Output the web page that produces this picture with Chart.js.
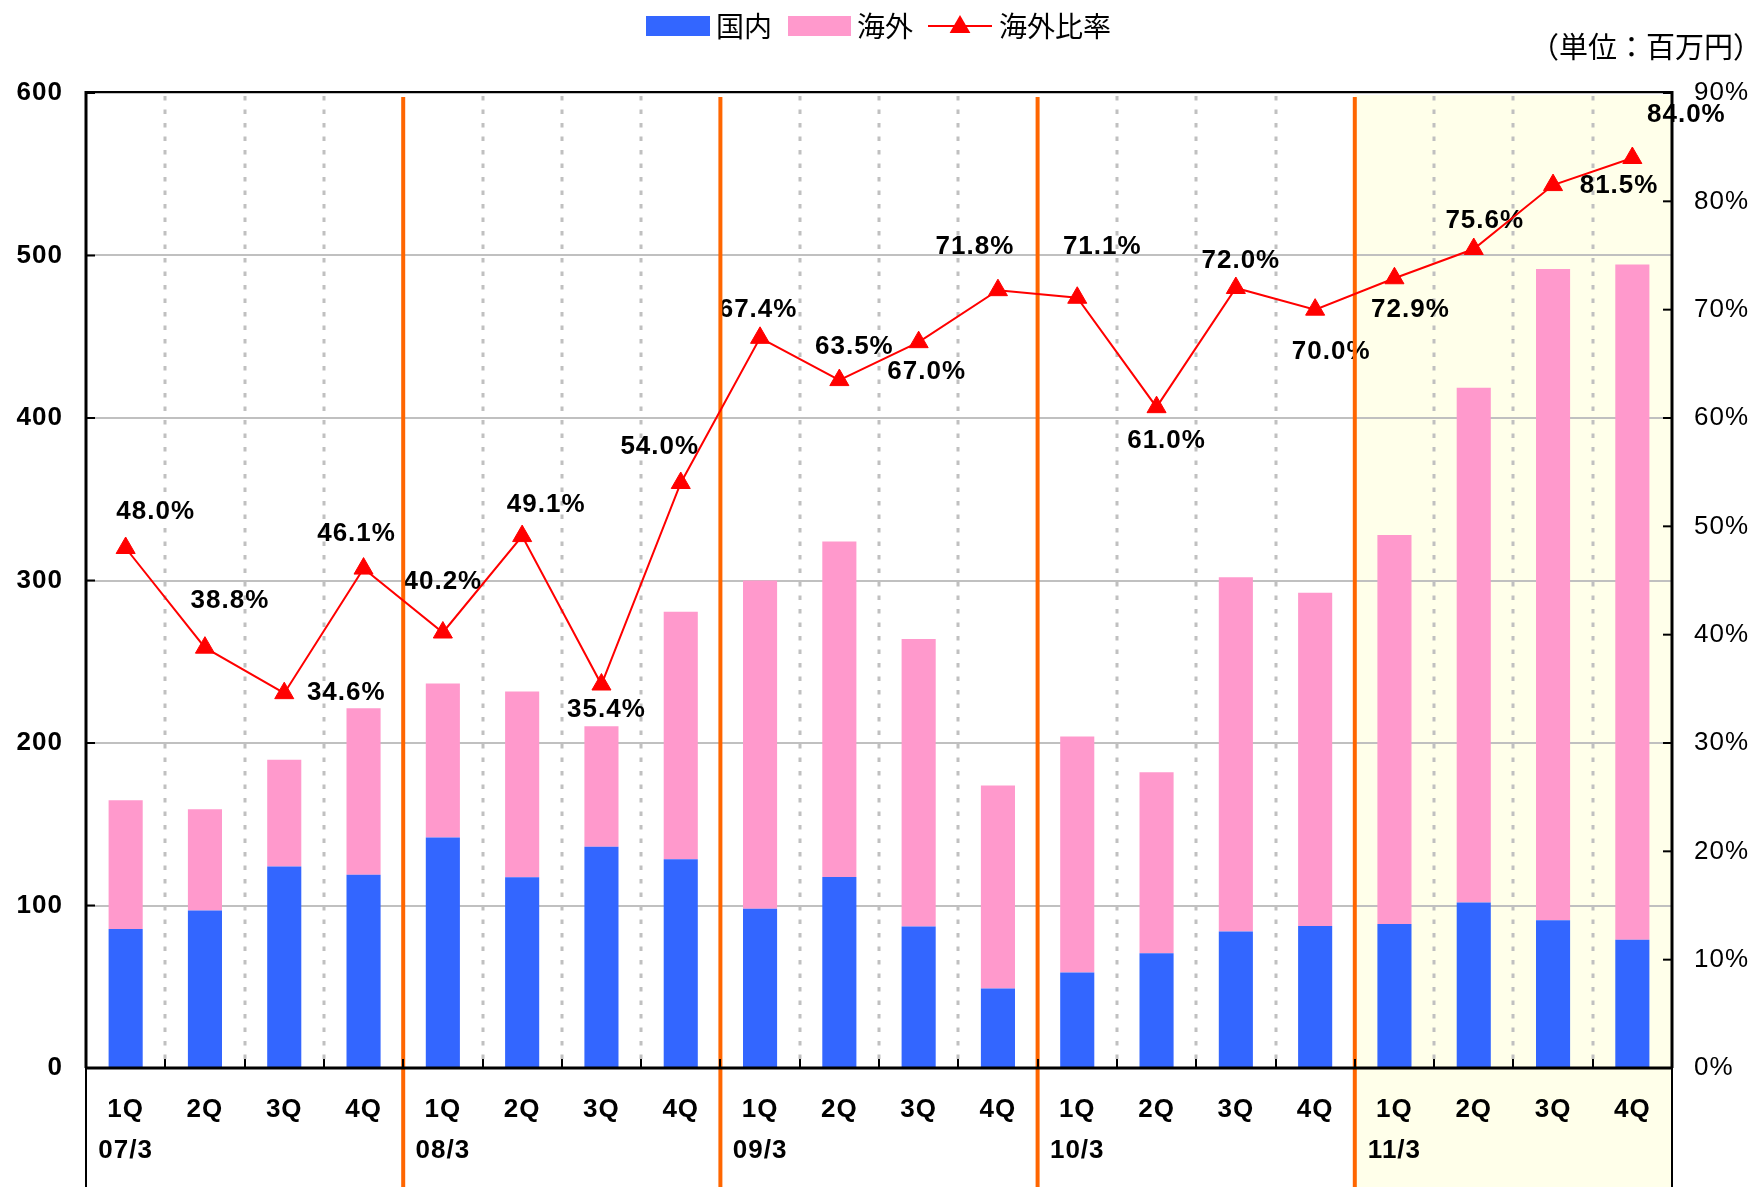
<!DOCTYPE html>
<html>
<head>
<meta charset="utf-8">
<script src="https://cdn.jsdelivr.net/npm/chart.js@4.4.1/dist/chart.umd.min.js"></script>
<style>
html,body{margin:0;padding:0;background:#fff;}
canvas{display:block;}
</style>
</head>
<body>
<canvas id="c" width="1758" height="1187"></canvas>
<script>
// ---- data ----
const quarterNames = ['1Q', '2Q', '3Q', '4Q'];
const fiscalYears = ['07/3', '08/3', '09/3', '10/3', '11/3'];
const domestic = [85.6, 96.9, 124.0, 118.9, 141.8, 117.4, 136.2, 128.5, 98.0, 117.6, 87.1, 49.0,
                  58.8, 70.6, 84.0, 87.4, 88.6, 101.8, 91.0, 79.0];
const overseas = [79.2, 62.4, 65.7, 102.5, 94.8, 114.3, 74.1, 152.2, 202.0, 206.4, 176.9, 124.8,
                  145.2, 111.4, 218.0, 205.0, 239.4, 316.8, 400.7, 415.5];
const overseasRatio = [48.0, 38.8, 34.6, 46.1, 40.2, 49.1, 35.4, 54.0, 67.4, 63.5, 67.0, 71.8,
                       71.1, 61.0, 72.0, 70.0, 72.9, 75.6, 81.5, 84.0];
const leftTicks = [0, 100, 200, 300, 400, 500, 600];
const rightTicks = [0, 10, 20, 30, 40, 50, 60, 70, 80, 90];
const legendNames = ['国内', '海外', '海外比率'];
const unitLabel = '（単位：百万円）';

// label placement relative to each ratio point (pixels) - layout only
const ratioLabelOffsets = [[30,-36],[25,-47],[62,0],[-7,-35],[0,-51],[24,-31],[5,25],[-21,-36],
  [-2,-28],[15,-33],[8,30],[-23,-43],[25,-51],[10,34],[5,-27],[16,42],[16,32],[11,-28],[66,1],[54,-43]];

const categories = [];
fiscalYears.forEach(fy => quarterNames.forEach((q, qi) => categories.push(qi === 0 ? [q, fy] : q)));

const FONT = "'Liberation Sans', Arial, sans-serif";
const CJK = "'Noto Sans CJK JP', 'Noto Sans CJK SC', sans-serif";
const BLUE = '#3366FF', PINK = '#FF99CC', RED = '#FF0000', ORANGE = '#FF6600';

function boundary(x, i) { return x.getPixelForValue(i - 0.5); }

function triangle(ctx, cx, cy, r) {
  ctx.beginPath();
  ctx.moveTo(cx, cy - r);
  ctx.lineTo(cx + r * 0.866, cy + r / 2);
  ctx.lineTo(cx - r * 0.866, cy + r / 2);
  ctx.closePath();
  ctx.fill();
}

const decor = {
  id: 'decor',
  beforeDraw(chart) {
    const {ctx, chartArea: a, scales: {x}} = chart;
    ctx.save();
    ctx.fillStyle = '#fff';
    ctx.fillRect(0, 0, chart.width, chart.height);
    const b = boundary(x, 16);
    ctx.fillStyle = '#FFFFEA';
    ctx.fillRect(b, a.top + 2, a.right - b, chart.height - a.top);
    ctx.restore();
    if ('letterSpacing' in ctx) ctx.letterSpacing = '1px';
  },
  beforeDatasetsDraw(chart) {
    const {ctx, chartArea: a, scales: {x}} = chart;
    const n = categories.length;
    ctx.save();
    // dotted separators
    ctx.strokeStyle = '#C0C0C0';
    ctx.lineWidth = 3;
    ctx.setLineDash([4.5, 9]);
    for (let i = 1; i < n; i++) {
      if (i % 4 === 0) continue;
      const px = Math.round(boundary(x, i));
      ctx.beginPath();
      ctx.moveTo(px, a.top + 3);
      ctx.lineTo(px, a.bottom);
      ctx.stroke();
    }
    ctx.setLineDash([]);
    // ratio labels
    const meta = chart.getDatasetMeta(0);
    ctx.fillStyle = '#000';
    ctx.font = 'bold 26px ' + FONT;
    ctx.textAlign = 'center';
    ctx.textBaseline = 'middle';
    meta.data.forEach((el, i) => {
      const off = ratioLabelOffsets[i];
      ctx.fillText(overseasRatio[i].toFixed(1) + '%', el.x + off[0], el.y + off[1]);
    });
    // fiscal year separators
    ctx.strokeStyle = ORANGE;
    ctx.lineWidth = 4;
    for (let i = 4; i < n; i += 4) {
      const px = boundary(x, i);
      ctx.beginPath();
      ctx.moveTo(px, a.top + 4);
      ctx.lineTo(px, chart.height);
      ctx.stroke();
    }
    ctx.restore();
  },
  afterDatasetsDraw(chart) {
    const {ctx, chartArea: a, scales: {x, y, y1}} = chart;
    ctx.save();
    ctx.strokeStyle = '#000';
    // frame
    ctx.lineWidth = 2;
    ctx.beginPath(); ctx.moveTo(a.left, a.top - 1); ctx.lineTo(a.right, a.top - 1); ctx.stroke();
    ctx.lineWidth = 3;
    ctx.beginPath(); ctx.moveTo(a.left, a.top - 2); ctx.lineTo(a.left, a.bottom); ctx.stroke();
    ctx.beginPath(); ctx.moveTo(a.right, a.top - 2); ctx.lineTo(a.right, a.bottom); ctx.stroke();
    ctx.beginPath(); ctx.moveTo(a.left - 1, a.bottom); ctx.lineTo(a.right + 1, a.bottom); ctx.stroke();
    ctx.lineWidth = 2;
    ctx.beginPath(); ctx.moveTo(a.left, a.bottom); ctx.lineTo(a.left, chart.height); ctx.stroke();
    ctx.beginPath(); ctx.moveTo(a.right, a.bottom); ctx.lineTo(a.right, chart.height); ctx.stroke();
    // tick marks (inward)
    ctx.lineWidth = 2;
    leftTicks.forEach(v => {
      const py = y.getPixelForValue(v);
      ctx.beginPath(); ctx.moveTo(a.left, py); ctx.lineTo(a.left + 9, py); ctx.stroke();
    });
    rightTicks.forEach(v => {
      const py = y1.getPixelForValue(v);
      ctx.beginPath(); ctx.moveTo(a.right - 9, py); ctx.lineTo(a.right, py); ctx.stroke();
    });
    for (let i = 1; i < categories.length; i++) {
      const px = Math.round(boundary(x, i));
      ctx.beginPath(); ctx.moveTo(px, a.bottom); ctx.lineTo(px, a.bottom - 9); ctx.stroke();
    }
    ctx.restore();
  },
  afterDraw(chart) {
    const {ctx} = chart;
    if ('letterSpacing' in ctx) ctx.letterSpacing = '0px';
    ctx.save();
    const cy = 26;
    ctx.font = '28px ' + CJK;
    ctx.textBaseline = 'middle';
    ctx.textAlign = 'left';
    ctx.fillStyle = BLUE;
    ctx.fillRect(646, cy - 10, 64, 20);
    ctx.fillStyle = '#000';
    ctx.fillText(legendNames[0], 716, cy);
    ctx.fillStyle = PINK;
    ctx.fillRect(788, cy - 10, 63, 20);
    ctx.fillStyle = '#000';
    ctx.fillText(legendNames[1], 857, cy);
    ctx.strokeStyle = RED;
    ctx.lineWidth = 2;
    ctx.beginPath(); ctx.moveTo(928, cy); ctx.lineTo(992, cy); ctx.stroke();
    ctx.fillStyle = RED;
    triangle(ctx, 960, cy + 1, 12);
    ctx.fillStyle = '#000';
    ctx.fillText(legendNames[2], 999, cy);
    // unit
    ctx.font = '29px ' + CJK;
    ctx.textAlign = 'left';
    ctx.fillText(unitLabel, 1530, 47);
    ctx.restore();
  }
};

const tickFontBold = {family: FONT, size: 26, weight: 'bold'};

new Chart(document.getElementById('c'), {
  type: 'bar',
  data: {
    labels: categories,
    datasets: [
      {
        type: 'line', label: legendNames[2], data: overseasRatio, yAxisID: 'y1', order: 0,
        borderColor: RED, backgroundColor: RED, borderWidth: 2, tension: 0,
        pointStyle: 'triangle', pointRadius: 11, pointHoverRadius: 11,
        pointBackgroundColor: RED, pointBorderColor: RED, pointBorderWidth: 1
      },
      {
        label: legendNames[0], data: domestic, backgroundColor: BLUE, stack: 's', yAxisID: 'y', order: 1,
        barPercentage: 0.43, categoryPercentage: 1
      },
      {
        label: legendNames[1], data: overseas, backgroundColor: PINK, stack: 's', yAxisID: 'y', order: 1,
        barPercentage: 0.43, categoryPercentage: 1
      }
    ]
  },
  options: {
    responsive: false,
    animation: false,
    layout: {padding: {top: 93, bottom: 0, left: 0, right: 0}},
    plugins: {legend: {display: false}, tooltip: {enabled: false}},
    scales: {
      x: {
        stacked: true, offset: true,
        grid: {display: false, drawTicks: false},
        border: {display: false},
        ticks: {color: '#000', font: {family: FONT, size: 26, weight: 'bold', lineHeight: 1.55},
                padding: 22, maxRotation: 0, minRotation: 0, autoSkip: false},
        afterFit(s) { s.height = 119; }
      },
      y: {
        stacked: true, min: leftTicks[0], max: leftTicks[leftTicks.length - 1],
        afterBuildTicks(s) { s.ticks = leftTicks.map(v => ({value: v})); },
        ticks: {color: '#000', font: tickFontBold, padding: 23},
        grid: {color: '#C0C0C0', lineWidth: 2, drawTicks: false},
        border: {display: false},
        afterFit(s) { s.width = 86; }
      },
      y1: {
        position: 'right', min: rightTicks[0], max: rightTicks[rightTicks.length - 1],
        afterBuildTicks(s) { s.ticks = rightTicks.map(v => ({value: v})); },
        ticks: {color: '#000', font: {family: FONT, size: 26}, padding: 22, callback: v => v + '%'},
        grid: {drawOnChartArea: false, drawTicks: false},
        border: {display: false},
        afterFit(s) { s.width = 86; }
      }
    }
  },
  plugins: [decor]
});
</script>
</body>
</html>
